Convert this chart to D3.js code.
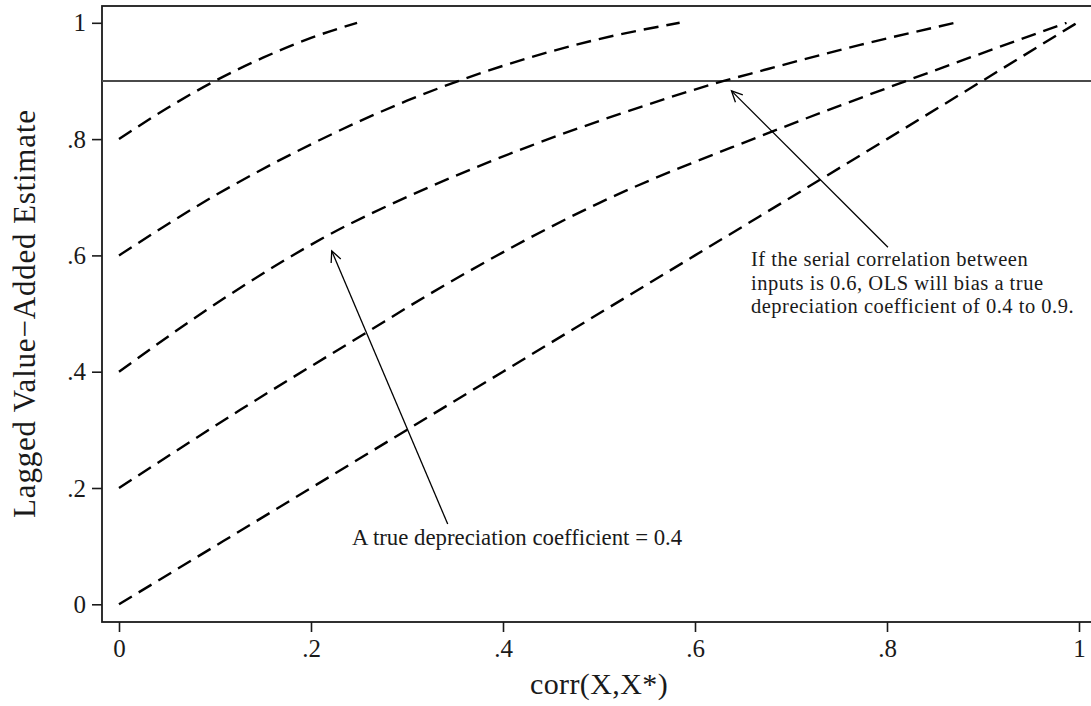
<!DOCTYPE html>
<html>
<head>
<meta charset="utf-8">
<script src="https://cdn.jsdelivr.net/npm/d3@7"></script>
<style>
  html, body { margin: 0; padding: 0; background: #fff; }
  svg { display: block; font-family: "Liberation Serif", "Times New Roman", serif; }
</style>
</head>
<body>
<div id="chart"></div>
<script>
// true depreciation coefficients, one dashed curve each
var trueCoef = [0.8, 0.6, 0.4, 0.2, 0];

// corr(X,X*) and lagged value-added estimate
var corr80 = [0, 0.05, 0.1, 0.15, 0.2, 0.248];
var est80  = [0.8, 0.853, 0.9, 0.94, 0.974, 1.0];

var corr60 = [0, 0.1, 0.2, 0.3, 0.4, 0.5, 0.584];
var est60  = [0.6, 0.703, 0.791, 0.866, 0.926, 0.972, 1.0];

var corr40 = [0, 0.113, 0.216, 0.324, 0.428, 0.532, 0.63, 0.668, 0.772, 0.871];
var est40  = [0.4, 0.53, 0.633, 0.718, 0.788, 0.849, 0.9, 0.917, 0.962, 1.0];

var corr20 = [0, 0.126, 0.2545, 0.324, 0.5, 0.668, 0.82, 0.987];
var est20  = [0.2, 0.334, 0.464, 0.534, 0.69, 0.805, 0.9, 1.0];

var corr00 = [0, 0.2, 0.4, 0.6, 0.8, 0.998];
var est00  = [0, 0.2, 0.4, 0.6, 0.8, 1.0];

var xTicks = [0, 0.2, 0.4, 0.6, 0.8, 1];
var xTickLabels = ['0', '.2', '.4', '.6', '.8', '1'];
var yTicks = [0, 0.2, 0.4, 0.6, 0.8, 1];
var yTickLabels = ['0', '.2', '.4', '.6', '.8', '1'];

var refLine = 0.9;

var xTitle = 'corr(X,X*)';
var yTitle = 'Lagged Value\u2212Added Estimate';

// annotations: arrow tip, arrow tail, text anchor (all in data units)
var annTips  = [[0.2216, 0.6076], [0.638, 0.883]];
var annTails = [[0.3424, 0.138], [0.801, 0.614]];
var annTextAt = [[0.2427, 0.102], [0.6583, 0.581]];
var annLines = [
    ['A true depreciation coefficient = 0.4'],
    ['If the serial correlation between',
     'inputs is 0.6, OLS will bias a true',
     'depreciation coefficient of 0.4 to 0.9.']
];

var width = 1091, height = 706;
var frame = { left: 102, top: 6, bottom: 622, right: 1096 };
var ink = '#1a1a1a';

var svg = d3.select('#chart').append('svg')
    .attr('width', width)
    .attr('height', height);

var xScale = d3.scaleLinear().domain([0, 1]).range([119, 1079]);
var yScale = d3.scaleLinear().domain([0, 1]).range([604.3, 22.8]);

// plot region frame
svg.append('rect')
    .attr('x', frame.left)
    .attr('y', frame.top)
    .attr('width', frame.right - frame.left)
    .attr('height', frame.bottom - frame.top)
    .attr('fill', 'none')
    .attr('stroke', ink)
    .attr('stroke-width', 1.8);

// axes
var xAxis = d3.axisBottom(xScale)
    .tickValues(xTicks)
    .tickFormat(function (d, i) { return xTickLabels[i]; })
    .tickSize(10)
    .tickPadding(7);
var xGroup = svg.append('g')
    .attr('transform', 'translate(0,' + frame.bottom + ')')
    .call(xAxis);
xGroup.select('.domain').remove();
xGroup.selectAll('.tick line').attr('stroke', ink).attr('stroke-width', 1.6);
xGroup.selectAll('.tick text')
    .attr('fill', ink)
    .style('font-family', '"Liberation Serif", serif')
    .style('font-size', '25px');

var yAxis = d3.axisLeft(yScale)
    .tickValues(yTicks)
    .tickFormat(function (d, i) { return yTickLabels[i]; })
    .tickSize(10)
    .tickPadding(6);
var yGroup = svg.append('g')
    .attr('transform', 'translate(' + frame.left + ',0)')
    .call(yAxis);
yGroup.select('.domain').remove();
yGroup.selectAll('.tick line').attr('stroke', ink).attr('stroke-width', 1.6);
yGroup.selectAll('.tick text')
    .attr('fill', ink)
    .style('font-family', '"Liberation Serif", serif')
    .style('font-size', '25px');

// axis titles
svg.append('text')
    .attr('x', (xScale(0) + xScale(1)) / 2)
    .attr('y', 694)
    .attr('text-anchor', 'middle')
    .attr('fill', ink)
    .style('font-size', '30px')
    .style('letter-spacing', '0.4px')
    .text(xTitle);

svg.append('text')
    .attr('transform', 'translate(35,' + (yScale(0) + yScale(1)) / 2 + ') rotate(-90)')
    .attr('text-anchor', 'middle')
    .attr('fill', ink)
    .style('font-size', '31px')
    .style('letter-spacing', '0.8px')
    .text(yTitle);

// reference line
svg.append('line')
    .attr('x1', frame.left)
    .attr('x2', frame.right)
    .attr('y1', yScale(refLine))
    .attr('y2', yScale(refLine))
    .attr('stroke', '#4a4a4a')
    .attr('stroke-width', 2);

// dashed curves
var curves = [[corr80, est80], [corr60, est60], [corr40, est40], [corr20, est20], [corr00, est00]];
var line = d3.line()
    .x(function (d) { return xScale(d[0]); })
    .y(function (d) { return yScale(d[1]); })
    .curve(d3.curveMonotoneX);

svg.append('g').selectAll('path')
    .data(curves)
    .enter()
    .append('path')
    .attr('d', function (c) { return line(d3.zip(c[0], c[1])); })
    .attr('fill', 'none')
    .attr('stroke', '#000')
    .attr('stroke-width', 2.4)
    .attr('stroke-dasharray', '15,8');

// annotations with open arrowheads
var annG = svg.append('g');
annTips.forEach(function (tip, i) {
    var tx = xScale(tip[0]), ty = yScale(tip[1]);
    var sx = xScale(annTails[i][0]), sy = yScale(annTails[i][1]);
    var ang = Math.atan2(sy - ty, sx - tx);
    var len = 12, spread = 0.45;
    annG.append('line')
        .attr('x1', sx).attr('y1', sy)
        .attr('x2', tx).attr('y2', ty)
        .attr('stroke', '#000')
        .attr('stroke-width', 1.3);
    annG.append('path')
        .attr('d', 'M' + (tx + len * Math.cos(ang - spread)) + ',' + (ty + len * Math.sin(ang - spread)) +
            'L' + tx + ',' + ty +
            'L' + (tx + len * Math.cos(ang + spread)) + ',' + (ty + len * Math.sin(ang + spread)))
        .attr('fill', 'none')
        .attr('stroke', '#000')
        .attr('stroke-width', 1.3);

    // one text per line so they stay separate
    annLines[i].forEach(function (s, j) {
        annG.append('text')
            .attr('x', xScale(annTextAt[i][0]))
            .attr('y', yScale(annTextAt[i][1]) + j * 23.5)
            .attr('fill', ink)
            .style('font-size', i === 0 ? '22.8px' : '20.5px')
            .style('letter-spacing', i === 0 ? '0px' : '0.5px')
            .text(s);
    });
});
</script>
</body>
</html>
